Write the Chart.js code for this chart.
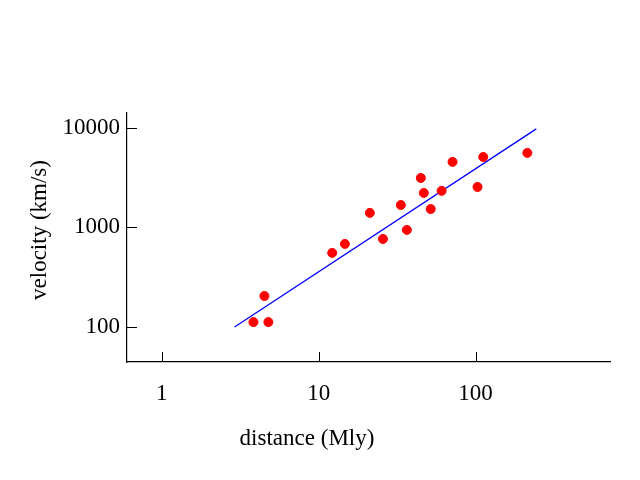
<!DOCTYPE html>
<html>
<head>
<script src="https://cdn.jsdelivr.net/npm/chart.js@4/dist/chart.umd.min.js"></script>
<style>body{margin:0;background:#fff}#wrap{width:640px;height:480px}</style>
</head>
<body>
<div id="wrap"><canvas id="c"></canvas></div>
<script>
// Data
const distances = [3.84, 4.51, 4.78, 12.2, 14.7, 21.2, 25.7, 33.4, 36.5, 44.8, 46.8, 51.8, 60.8, 71.4, 103, 112, 214];
const velocities = [112, 205, 112, 555, 683, 1400, 766, 1680, 944, 3140, 2220, 1530, 2330, 4550, 2550, 5100, 5600];
const fitX = [2.91, 244];
const fitY = [100, 9770];
const xTicks = [1, 10, 100];
const yTicks = [100, 1000, 10000];

const font = { family: "Liberation Serif", size: 23 };

// inward tick marks + axis titles
const extras = {
  id: "extras",
  afterDraw(chart) {
    const c = chart.ctx, x = chart.scales.x, y = chart.scales.y;
    c.save();
    c.strokeStyle = "#000";
    c.lineWidth = 1;
    xTicks.forEach((v) => {
      const px = Math.round(x.getPixelForValue(v)) + 0.5;
      c.beginPath(); c.moveTo(px, y.bottom); c.lineTo(px, y.bottom - 10); c.stroke();
    });
    yTicks.forEach((v) => {
      const py = Math.round(y.getPixelForValue(v)) + 0.5;
      c.beginPath(); c.moveTo(x.left, py); c.lineTo(x.left + 10, py); c.stroke();
    });
    c.fillStyle = "#000";
    c.font = "23px 'Liberation Serif'";
    c.textAlign = "center";
    c.textBaseline = "middle";
    c.fillText("distance (Mly)", 307, 439);
    c.translate(40, 230);
    c.rotate(-Math.PI / 2);
    c.fillText("velocity (km/s)", 0, 0);
    c.restore();
  },
};

new Chart(document.getElementById("c"), {
  type: "scatter",
  data: {
    datasets: [
      {
        data: distances.map((d, i) => ({ x: d, y: velocities[i] })),
        backgroundColor: "#ff0000",
        borderColor: "#ff0000",
        pointRadius: 4.5,
      },
      {
        type: "line",
        data: fitX.map((d, i) => ({ x: d, y: fitY[i] })),
        borderColor: "#0000ff",
        borderWidth: 1.3,
        pointRadius: 0,
        fill: false,
      },
    ],
  },
  options: {
    responsive: true,
    maintainAspectRatio: false,
    animation: false,
    layout: { padding: { top: 113, right: 30, left: 0, bottom: 0 } },
    plugins: { legend: { display: false }, tooltip: { enabled: false } },
    scales: {
      x: {
        type: "logarithmic",
        min: 0.617,
        max: 720,
        afterBuildTicks: (s) => { s.ticks = xTicks.map((v) => ({ value: v })); },
        afterFit: (s) => { s.height = 118; },
        grid: { display: false, drawTicks: false },
        border: { display: true, color: "#000", width: 1.2 },
        ticks: { color: "#000", font, padding: 18, maxRotation: 0, callback: (v) => String(v) },
      },
      y: {
        type: "logarithmic",
        min: 44.5,
        max: 14100,
        afterBuildTicks: (s) => { s.ticks = yTicks.map((v) => ({ value: v })); },
        afterFit: (s) => { s.width = 127; },
        grid: { display: false, drawTicks: false },
        border: { display: true, color: "#000", width: 1.2 },
        ticks: { color: "#000", font, padding: 7, callback: (v) => String(v) },
      },
    },
  },
  plugins: [extras],
});
</script>
</body>
</html>
